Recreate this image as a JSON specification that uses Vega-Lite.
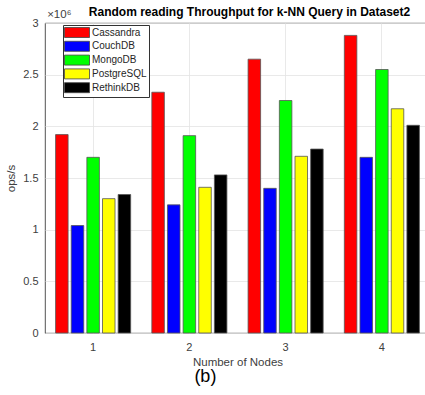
{
  "$schema": "https://vega.github.io/schema/vega-lite/v6.json",
  "autosize": "none",
  "width": 385,
  "height": 310,
  "padding": {"left": 45, "top": 23, "right": 0, "bottom": 62},
  "background": "white",
  "config": {
    "font": "Liberation Sans",
    "view": {"stroke": "#262626", "strokeWidth": 0.8},
    "axis": {
      "domain": false,
      "ticks": false,
      "gridColor": "#e3e3e3",
      "gridWidth": 0.8,
      "labelColor": "#404040",
      "labelFontSize": 11,
      "titleColor": "#404040",
      "titleFontSize": 11.5,
      "titleFontWeight": "normal"
    }
  },
  "title": {
    "text": "Random reading Throughput for k-NN Query in Dataset2",
    "fontSize": 12,
    "fontWeight": "bold",
    "color": "#000000",
    "frame": "group",
    "offset": -10,
    "dx": 12
  },
  "layer": [
    {
      "data": {
        "values": [
          {"nodes": "1", "db": "Cassandra", "ops": 1920000},
          {"nodes": "1", "db": "CouchDB", "ops": 1040000},
          {"nodes": "1", "db": "MongoDB", "ops": 1700000},
          {"nodes": "1", "db": "PostgreSQL", "ops": 1300000},
          {"nodes": "1", "db": "RethinkDB", "ops": 1340000},
          {"nodes": "2", "db": "Cassandra", "ops": 2330000},
          {"nodes": "2", "db": "CouchDB", "ops": 1240000},
          {"nodes": "2", "db": "MongoDB", "ops": 1910000},
          {"nodes": "2", "db": "PostgreSQL", "ops": 1410000},
          {"nodes": "2", "db": "RethinkDB", "ops": 1530000},
          {"nodes": "3", "db": "Cassandra", "ops": 2650000},
          {"nodes": "3", "db": "CouchDB", "ops": 1400000},
          {"nodes": "3", "db": "MongoDB", "ops": 2250000},
          {"nodes": "3", "db": "PostgreSQL", "ops": 1710000},
          {"nodes": "3", "db": "RethinkDB", "ops": 1780000},
          {"nodes": "4", "db": "Cassandra", "ops": 2880000},
          {"nodes": "4", "db": "CouchDB", "ops": 1700000},
          {"nodes": "4", "db": "MongoDB", "ops": 2550000},
          {"nodes": "4", "db": "PostgreSQL", "ops": 2170000},
          {"nodes": "4", "db": "RethinkDB", "ops": 2010000}
        ]
      },
      "mark": {"type": "bar", "stroke": "#555555", "strokeWidth": 0.8},
      "encoding": {
        "x": {
          "field": "nodes",
          "type": "nominal",
          "scale": {"domain": ["1", "2", "3", "4"], "paddingInner": 0.22, "paddingOuter": 0.11},
          "axis": {
            "labelAngle": 0,
            "title": "Number of Nodes",
            "bandPosition": 0.5,
            "grid": true,
            "labelPadding": 8,
            "titlePadding": 4
          }
        },
        "xOffset": {
          "field": "db",
          "type": "nominal",
          "sort": ["Cassandra", "CouchDB", "MongoDB", "PostgreSQL", "RethinkDB"],
          "scale": {"paddingInner": 0.2}
        },
        "y": {
          "field": "ops",
          "type": "quantitative",
          "scale": {"domain": [0, 3000000], "nice": false},
          "axis": {
            "values": [0, 500000, 1000000, 1500000, 2000000, 2500000, 3000000],
            "labelExpr": "datum.value / 1000000",
            "title": "ops/s",
            "labelPadding": 7,
            "titlePadding": 6
          }
        },
        "color": {
          "field": "db",
          "type": "nominal",
          "scale": {
            "domain": ["Cassandra", "CouchDB", "MongoDB", "PostgreSQL", "RethinkDB"],
            "range": ["#ff0000", "#0000ff", "#00ff00", "#ffff00", "#000000"]
          },
          "legend": {
            "title": null,
            "orient": "none",
            "legendX": 18,
            "legendY": 2,
            "padding": 2,
            "fillColor": "white",
            "strokeColor": "#333333",
            "symbolType": "M-1.2,-1H3.8V1H-1.2Z",
            "symbolSize": 100,
            "symbolStrokeColor": "#444444",
            "symbolStrokeWidth": 0.8,
            "symbolOpacity": 1,
            "labelFontSize": 10,
            "labelColor": "#262626",
            "labelOffset": 16,
            "rowPadding": -1.2
          }
        }
      }
    },
    {
      "data": {"values": [{"label": "×10⁶"}]},
      "mark": {"type": "text", "align": "left", "baseline": "alphabetic", "fontSize": 11.5, "color": "#404040", "dy": -5, "dx": -46},
      "encoding": {
        "x": {"datum": "1"},
        "y": {"datum": 3000000},
        "text": {"field": "label"}
      }
    },
    {
      "data": {"values": [{"label": "(b)"}]},
      "mark": {"type": "text", "align": "center", "baseline": "middle", "fontSize": 18, "color": "#000000", "dy": 44, "dx": 16},
      "encoding": {
        "x": {"datum": "2"},
        "y": {"datum": 0},
        "text": {"field": "label"}
      }
    }
  ]
}
